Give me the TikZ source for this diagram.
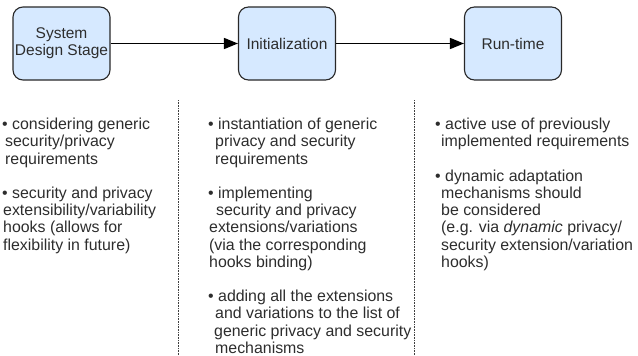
\documentclass[tikz,border=0pt]{standalone}
\usepackage{fontspec}
\setmainfont{Liberation Sans}
\usetikzlibrary{arrows.meta}
\definecolor{boxfill}{RGB}{214,233,255}
\definecolor{boxdraw}{RGB}{40,40,40}
\definecolor{txt}{RGB}{45,45,45}
\tikzset{
  stagebox/.style={draw=boxdraw, fill=boxfill, line width=1.1pt, rounded corners=10pt,
    minimum width=97pt, minimum height=73pt, inner sep=0pt, align=center,
    text=txt, font=\fontsize{15.5}{17}\selectfont},
  flowarrow/.style={line width=1.5pt, -{Triangle[length=14pt,width=11pt]}},
  sepline/.style={line width=0.8pt, draw=black!75, dash pattern=on 0.8pt off 0.8pt},
  coltext/.style={anchor=north west, inner sep=0pt, align=left, text=txt,
    font=\fontsize{15.9}{17.2}\selectfont}
}
\begin{document}
\begin{tikzpicture}[x=1pt,y=-1pt]
\useasboundingbox (0,0) rectangle (638,356);
\node[stagebox] (sds) at (61.5,43.5) {System\\Design Stage};
\node[stagebox] (ini) at (287,43.5) {Initialization};
\node[stagebox] (run) at (513,43.5) {Run-time};
\draw[flowarrow] (sds) -- (ini);
\draw[flowarrow] (ini) -- (run);
\coordinate (s1t) at (178,100);
\coordinate (s1b) at (178,356);
\coordinate (s2t) at (414,100);
\coordinate (s2b) at (414,356);
\draw[sepline] (s1t) -- (s1b);
\draw[sepline] (s2t) -- (s2b);
\node[coltext] (c1) at (2,118) {%
• considering generic\\
\hspace*{3pt}security/privacy\\
\hspace*{3pt}requirements\\[17.2pt]
• security and privacy\\
\hspace*{1pt}extensibility/variability\\
\hspace*{1pt}hooks (allows for\\
\hspace*{1pt}flexibility in future)};
\node[coltext] (c2) at (208,118) {%
• instantiation of generic\\
\hspace*{7pt}privacy and security\\
\hspace*{7pt}requirements\\[17.2pt]
• implementing\\
\hspace*{8pt}security and privacy\\
\hspace*{1pt}extensions/variations\\
\hspace*{1pt}(via the corresponding\\
\hspace*{1pt}hooks binding)\\[17.2pt]
• adding all the extensions\\
\hspace*{7pt}and variations to the list of\\
\hspace*{6pt}generic privacy and security\\
\hspace*{7pt}mechanisms};
\node[coltext] (c3) at (435,118) {%
• active use of previously\\
\hspace*{6pt}implemented requirements\\[17.2pt]
• dynamic adaptation\\
\hspace*{6pt}mechanisms should\\
\hspace*{6pt}be considered\\
\hspace*{6pt}(e.g. via \textit{dynamic} privacy/\\
\hspace*{6pt}security extension/variation\\
\hspace*{6pt}hooks)};
\end{tikzpicture}
\end{document}
